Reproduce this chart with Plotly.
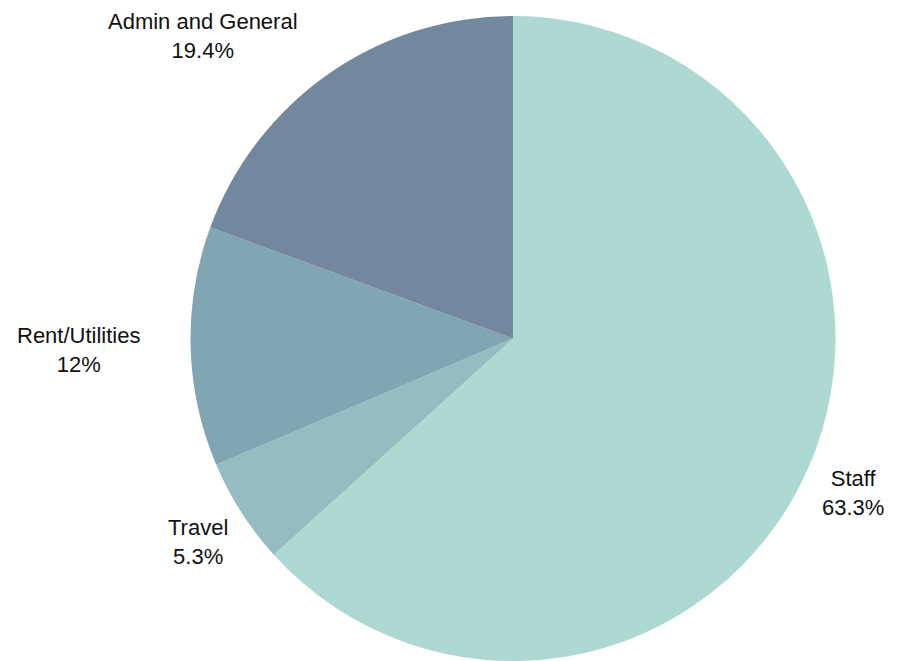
import plotly.graph_objects as go

categories = ["Staff", "Travel", "Rent/Utilities", "Admin and General"]
values = [63.3, 5.3, 12, 19.4]
colors = ["#aed8d2", "#94bcc1", "#80a5b3", "#72889f"]

W, H = 899, 661

# label anchor positions (pixels, from picture)
label_pos = {
    "Staff": (853, 493),
    "Travel": (198, 542),
    "Rent/Utilities": (78, 350),
    "Admin and General": (203, 36),
}

def fmt(v):
    s = f"{v:.1f}"
    if s.endswith(".0"):
        s = s[:-2]
    return s + "%"

fig = go.Figure(go.Pie(
    labels=categories,
    values=values,
    marker=dict(colors=colors, line=dict(width=0)),
    sort=False,
    direction="clockwise",
    rotation=0,
    textinfo="none",
    hoverinfo="label+percent",
    showlegend=False,
    domain=dict(x=[127 / W, 1.0], y=[0, (H - 16) / H]),
))

annotations = []
for c, v in zip(categories, values):
    px, py = label_pos[c]
    annotations.append(dict(
        x=px / W, y=1 - py / H, xref="paper", yref="paper",
        xanchor="center", yanchor="middle",
        text=f"{c}<br>{fmt(v)}", showarrow=False, align="center",
        font=dict(family="Liberation Sans, Arial, sans-serif", size=22, color="#111111"),
    ))

fig.update_layout(
    width=W, height=H,
    margin=dict(l=0, r=0, t=0, b=0),
    paper_bgcolor="white", plot_bgcolor="white",
    annotations=annotations,
)

fig.write_html("out.html")
